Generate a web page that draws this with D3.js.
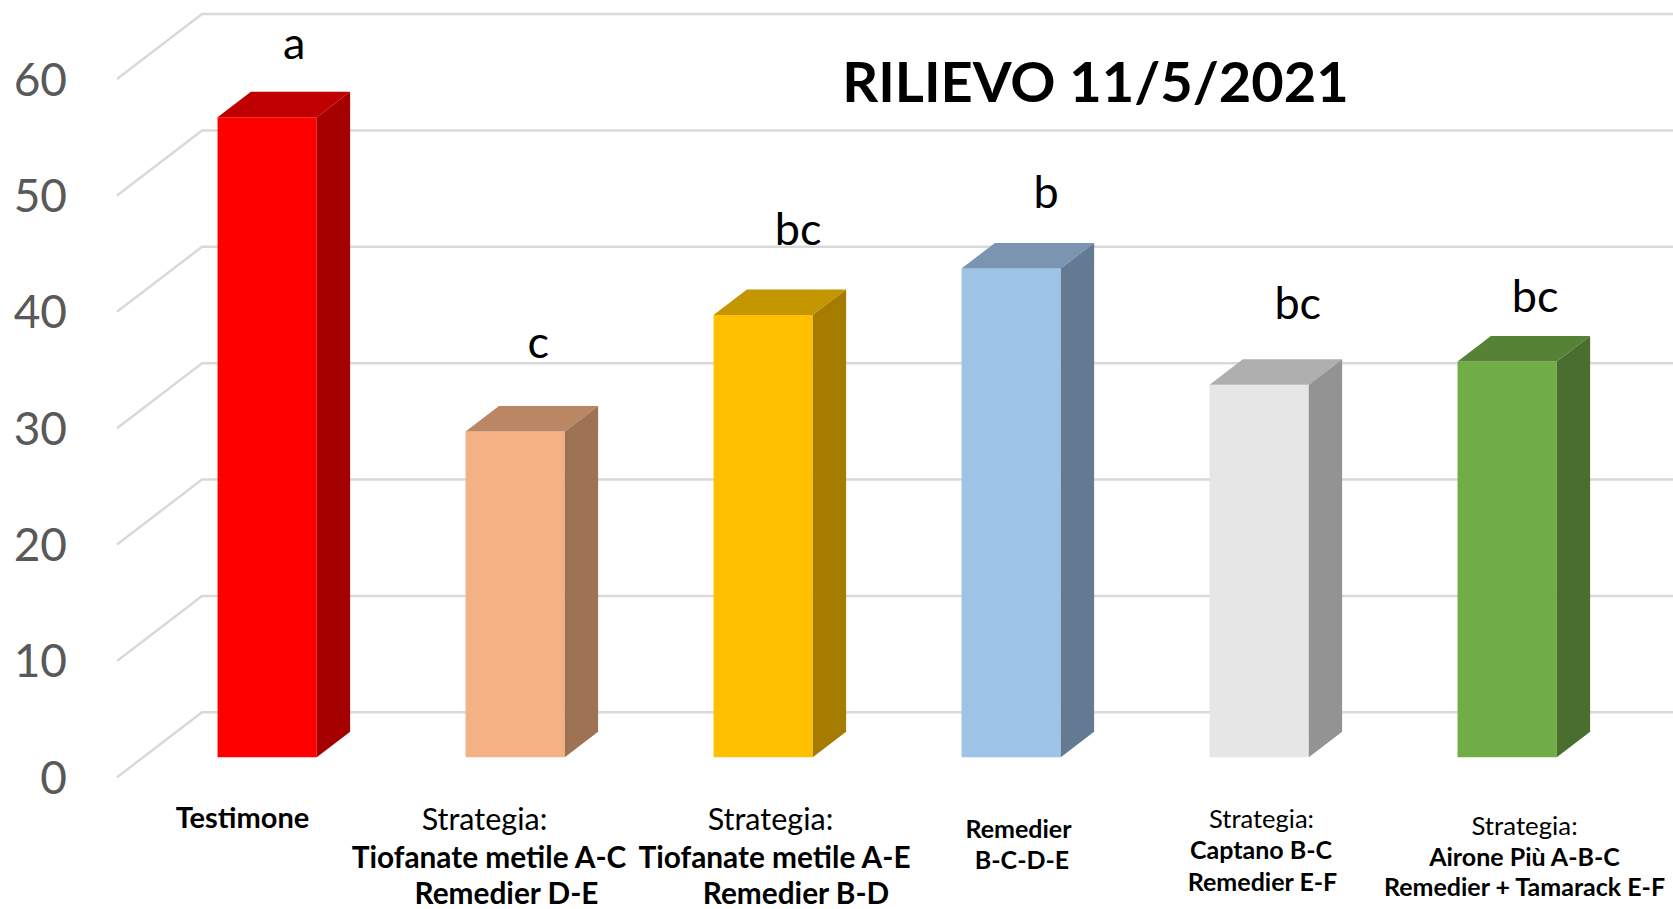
<!DOCTYPE html>
<html>
<head>
<meta charset="utf-8">
<script src="https://cdn.jsdelivr.net/npm/d3@7"></script>
<style>
  html, body { margin: 0; padding: 0; background: #ffffff; }
  svg { display: block; font-family: Lato, "Noto Sans", sans-serif; }
</style>
</head>
<body>
<svg id="chart" width="1673" height="909"></svg>
<script>
// ---------- data ----------
const categories = ["Testimone", "Tiofanate A-C / Remedier D-E", "Tiofanate A-E / Remedier B-D",
                    "Remedier B-C-D-E", "Captano / Remedier", "Airone / Remedier + Tamarack"];
const values = [55, 28, 38, 42, 32, 34];
const letters = ["a", "c", "bc", "b", "bc", "bc"];
const letterLevels = [60, 34.3, 44, 47.2, 37.7, 38.3];
const yTicks = [0, 10, 20, 30, 40, 50, 60];
const categoryLines = [
  ["Testimone"],
  ["Strategia:", "Tiofanate metile A-C", "Remedier D-E"],
  ["Strategia:", "Tiofanate metile A-E", "Remedier B-D"],
  ["Remedier", "B-C-D-E"],
  ["Strategia:", "Captano B-C", "Remedier E-F"],
  ["Strategia:", "Airone Più A-B-C", "Remedier + Tamarack E-F"]
];
const title = "RILIEVO 11/5/2021";

// ---------- styles ----------
const frontColors = ["#ff0000", "#f4b183", "#ffc000", "#9dc3e6", "#e7e6e6", "#70ad47"];
const topColors   = ["#c00000", "#bb8664", "#c49600", "#7a94b2", "#afafaf", "#558235"];
const sideColors  = ["#a50000", "#9e7353", "#a67c00", "#647a93", "#939393", "#4a6e2d"];
const labelSizes  = [29, 29.8, 29.8, 25, 25, 25];
const headSizes   = [29, 30.5, 30.5, 25.5, 25.5, 25.8];
const labelDx = [[1.5], [-4.5, 0, 17.5], [33.5, 37.5, 59], [33.5, 37], [28.5, 28, 29.5], [43.5, 43.5, 43.5]];
const labelY  = [[818], [819, 857, 893], [819, 857, 893], [829, 860], [819, 850, 882], [826, 857, 887]];
const letterDx = [27, 23, 35, 35, 38.6, 28];

// ---------- layout ----------
const W = 1673, H = 909;
const depthX = 85, depthY = 65;          // projection of full depth
const d0 = 0.3077, d1 = 0.70;            // bar front / back depth

const svg = d3.select("#chart");

const x = d3.scaleBand().domain(categories).range([117, 1605]).paddingInner(0.6).paddingOuter(0.3);
const y = d3.scaleLinear().domain([0, 60]).range([777.3, 79]);

const P = (px, v, d) => [px + depthX * d, y(v) - depthY * d];

// gridlines: side wall diagonal + back wall
const grid = svg.append("g").attr("stroke", "#d9d9d9").attr("stroke-width", 2.5).attr("fill", "none");
yTicks.forEach(t => {
  const a = P(117, t, 0), b = P(117, t, 1);
  grid.append("path").attr("d", d3.line()([a, b, [W + 5, b[1]]]));
});

// y tick labels
svg.append("g").selectAll("text").data(yTicks).join("text")
  .attr("x", 67).attr("y", d => y(d)).attr("dy", "0.36em")
  .attr("text-anchor", "end").attr("font-size", 46).attr("fill", "#595959")
  .text(d => d);

// bars
const bars = svg.append("g");
categories.forEach((c, i) => {
  const x0 = x(c), x1 = x0 + x.bandwidth(), v = values[i];
  const poly = pts => "M" + pts.map(p => p.join(",")).join("L") + "Z";
  const g = bars.append("g");
  g.append("path").attr("fill", frontColors[i])
    .attr("d", poly([P(x0, 0, d0), P(x1, 0, d0), P(x1, v, d0), P(x0, v, d0)]));
  g.append("path").attr("fill", topColors[i])
    .attr("d", poly([P(x0, v, d0), P(x1, v, d0), P(x1, v, d1), P(x0, v, d1)]));
  g.append("path").attr("fill", sideColors[i])
    .attr("d", poly([P(x1, 0, d0), P(x1, v, d0), P(x1, v, d1), P(x1, 0, d1)]));
});

// significance letters
svg.append("g").selectAll("text").data(categories).join("text")
  .attr("x", (c, i) => P(x(c) + x.bandwidth() / 2, 0, d0)[0] + letterDx[i])
  .attr("y", (c, i) => P(0, letterLevels[i], d0)[1])
  .attr("text-anchor", "middle").attr("font-size", 45).attr("fill", "#000")
  .text((c, i) => letters[i]);

// category labels
categories.forEach((c, i) => {
  const cx = x(c) + x.bandwidth() / 2;
  const g = svg.append("g");
  categoryLines[i].forEach((line, j) => {
    const isHead = line.endsWith(":");
    g.append("text")
      .attr("x", cx + labelDx[i][j]).attr("y", labelY[i][j]).attr("dy", "0.36em")
      .attr("text-anchor", "middle")
      .attr("font-size", isHead ? headSizes[i] : labelSizes[i])
      .attr("font-weight", isHead ? 400 : 700)
      .attr("fill", "#000")
      .text(line);
  });
});

// title
svg.append("text").attr("x", 1095.5).attr("y", 102).attr("text-anchor", "middle")
  .attr("font-size", 56).attr("font-weight", 700).attr("fill", "#000").text(title);
</script>
</body>
</html>
